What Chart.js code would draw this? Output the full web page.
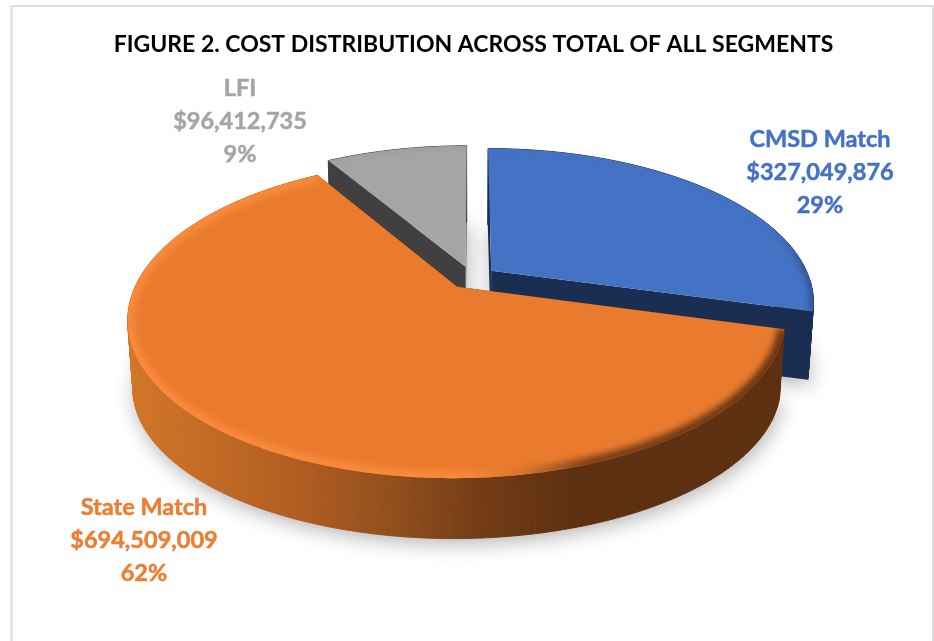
<!DOCTYPE html>
<html>
<head>
<meta charset="utf-8">
<style>
html,body{margin:0;padding:0;background:#fff}
#wrap{position:relative;width:934px;height:641px}
</style>
<script src="https://cdn.jsdelivr.net/npm/chart.js@4/dist/chart.umd.min.js"></script>
</head>
<body>
<div id="wrap"><canvas id="c" width="934" height="641"></canvas></div>
<script>
const titleText = "FIGURE 2. COST DISTRIBUTION ACROSS TOTAL OF ALL SEGMENTS";
const categories = ["CMSD Match", "State Match", "LFI"];
const costs = [327049876, 694509009, 96412735];
const percents = ["29%", "62%", "9%"];
const topColors = ["#4472C4", "#EA7B2E", "#A5A5A5"];
const wallColors = ["#1A2E52", "#8F4E1C", "#404040"];
const labelColors = ["#4472C4", "#ED7D31", "#A5A5A5"];
const labelCenters = [[820, 139], [144, 507], [240, 88]];
const drawOrder = [2, 0, 1];

const view = {cx: 472, cy: 277.5, rx: 318, ry: 149, k: 0.2, sx: 0.985, sy: 0.952, depth: 70};

function proj(u, v) {
  const den = 1 - view.k * v;
  return [view.cx + view.rx * u / den, view.cy + view.ry * v / den];
}
function lower(p) {
  return [view.cx + (p[0] - view.cx) * view.sx, view.cy + (p[1] - view.cy) * view.sy + view.depth];
}
function sliceGeom(arc) {
  const a0 = arc.startAngle, a1 = arc.endAngle, mid = (a0 + a1) / 2;
  const d = arc.options.offset / arc.outerRadius;
  const ou = Math.cos(mid) * d, ov = Math.sin(mid) * d;
  const rim = [];
  const n = Math.ceil((a1 - a0) * 60);
  for (let i = 0; i <= n; i++) {
    const a = a0 + (a1 - a0) * i / n;
    rim.push(proj(ou + Math.cos(a), ov + Math.sin(a)));
  }
  return {apex: proj(ou, ov), rim};
}
function path(ctx, pts) {
  ctx.beginPath();
  pts.forEach((p, i) => i ? ctx.lineTo(p[0], p[1]) : ctx.moveTo(p[0], p[1]));
  ctx.closePath();
}
function hGrad(ctx, stops) {
  const g = ctx.createLinearGradient(130, 0, 820, 0);
  stops.forEach(s => g.addColorStop((s[0] - 130) / 690, s[1]));
  return g;
}

const pie3d = {
  id: 'pie3d',
  beforeDatasetsDraw(chart) {
    const ctx = chart.ctx;
    const arcs = chart.getDatasetMeta(0).data;
    const geoms = arcs.map(sliceGeom);

    // soft shadow beneath all slices
    ctx.save();
    ctx.shadowColor = 'rgba(0,0,0,0.3)';
    ctx.shadowBlur = 20;
    ctx.shadowOffsetY = 5;
    ctx.shadowOffsetX = 2;
    ctx.fillStyle = '#fff';
    geoms.forEach(g => {
      path(ctx, [g.apex, ...g.rim].map(lower));
      ctx.fill();
    });
    ctx.restore();

    const orangeWall = hGrad(ctx, [[130, '#D27628'], [300, '#B05D22'], [400, '#8F4E1C'], [480, '#733C16'], [570, '#5E3012'], [790, '#5E3012']]);
    const orangeRim = hGrad(ctx, [[130, '#F98A3C'], [460, '#F98A3C'], [520, '#D9772E'], [590, '#7C4016'], [790, '#6A3613']]);
    const blueRim = hGrad(ctx, [[130, '#4472C4'], [770, '#4472C4'], [815, '#2A4880']]);
    const rimColors = [blueRim, orangeRim, '#9A9A9A'];
    const rimWidths = [6, 14, 3];

    drawOrder.forEach(i => {
      const g = geoms[i];
      const first = g.rim[0], last = g.rim[g.rim.length - 1];
      const wall = i === 1 ? orangeWall : wallColors[i];
      ctx.save();
      ctx.lineJoin = 'round';
      // cut faces
      ctx.fillStyle = i === 1 ? '#5E3012' : wallColors[i];
      ctx.strokeStyle = ctx.fillStyle;
      [first, last].forEach(p => {
        path(ctx, [g.apex, p, lower(p), lower(g.apex)]);
        ctx.fill();
      });
      // outer wall, swept segment by segment
      ctx.fillStyle = wall;
      ctx.strokeStyle = wall;
      ctx.lineWidth = 1;
      for (let j = 0; j < g.rim.length - 1; j++) {
        path(ctx, [g.rim[j], g.rim[j + 1], lower(g.rim[j + 1]), lower(g.rim[j])]);
        ctx.fill();
        ctx.stroke();
      }
      // top face
      const top = [g.apex, ...g.rim];
      path(ctx, top);
      ctx.fillStyle = topColors[i];
      ctx.fill();
      // bevel along the rim
      ctx.save();
      path(ctx, top);
      ctx.clip();
      ctx.filter = 'blur(3px)';
      ctx.beginPath();
      g.rim.forEach((p, j) => j ? ctx.lineTo(p[0], p[1]) : ctx.moveTo(p[0], p[1]));
      ctx.strokeStyle = rimColors[i];
      ctx.lineWidth = rimWidths[i];
      ctx.stroke();
      ctx.restore();
      ctx.restore();
    });
    return false;
  },
  afterDraw(chart) {
    const ctx = chart.ctx;
    ctx.save();
    // frame
    ctx.strokeStyle = '#DEDEDE';
    ctx.lineWidth = 2;
    ctx.beginPath();
    ctx.moveTo(11.5, 641);
    ctx.lineTo(11.5, 6);
    ctx.lineTo(933, 6);
    ctx.lineTo(933, 641);
    ctx.stroke();
    // data labels
    ctx.textAlign = 'center';
    ctx.textBaseline = 'middle';
    ctx.font = 'bold 23.5px Lato, "Open Sans", sans-serif';
    ctx.lineWidth = 0.5;
    ctx.lineJoin = 'round';
    categories.forEach((name, i) => {
      const [x, y] = labelCenters[i];
      ctx.fillStyle = labelColors[i];
      ctx.strokeStyle = labelColors[i];
      [name, '$' + costs[i].toLocaleString('en-US'), percents[i]].forEach((line, j) => {
        ctx.fillText(line, x, y + 33 * j);
        ctx.strokeText(line, x, y + 33 * j);
      });
    });
    ctx.restore();
  }
};

new Chart(document.getElementById('c'), {
  type: 'pie',
  data: {
    labels: categories,
    datasets: [{
      data: costs,
      backgroundColor: topColors,
      borderWidth: 0,
      offset: 21
    }]
  },
  options: {
    responsive: false,
    animation: false,
    rotation: 0,
    layout: {padding: {left: 13}},
    plugins: {
      legend: {display: false},
      tooltip: {enabled: false},
      title: {
        display: true,
        text: titleText,
        color: '#000',
        font: {family: 'Lato, "Open Sans", sans-serif', size: 23, weight: 'bold'},
        padding: {top: 31, bottom: 13}
      }
    }
  },
  plugins: [pie3d]
});
</script>
</body>
</html>
